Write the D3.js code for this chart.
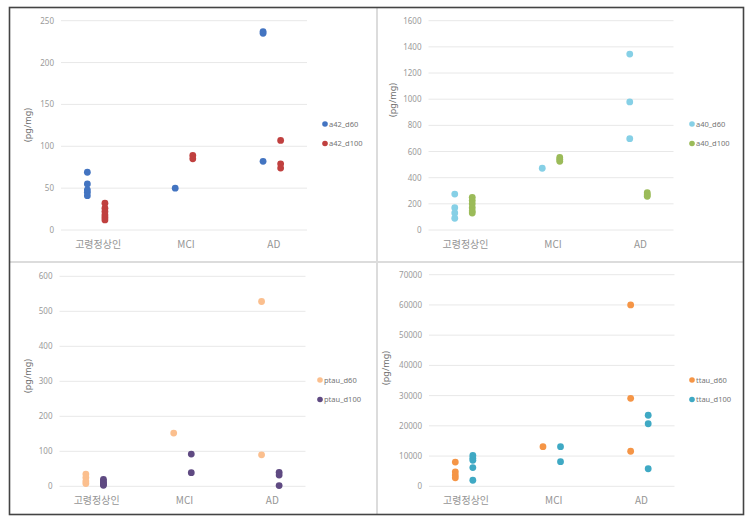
<!DOCTYPE html>
<html><head><meta charset="utf-8">
<script src="https://cdn.jsdelivr.net/npm/d3@7"></script>
<style>
html,body{margin:0;padding:0;background:#fff;}
svg{display:block;font-family:"Noto Sans CJK KR","Noto Sans",sans-serif;}
</style></head>
<body><svg id="c" width="751" height="522"></svg>
<script>
// ---- data ----
const categories = ["고령정상인", "MCI", "AD"];
const yTitle = "(pg/mg)";

// panel 1: a42
const a42Names = ["a42_d60", "a42_d100"];
const a42_d60 = [[69, 55, 48, 45, 41], [50], [237, 235, 82]];
const a42_d100 = [[32, 26, 22, 18, 15, 12], [89, 85], [107, 79, 74]];
const a42Ticks = [0, 50, 100, 150, 200, 250];

// panel 2: a40
const a40Names = ["a40_d60", "a40_d100"];
const a40_d60 = [[275, 170, 130, 90], [472], [1345, 979, 698]];
const a40_d100 = [[250, 225, 200, 170, 145, 130], [555, 540, 525], [285, 270, 258]];
const a40Ticks = [0, 200, 400, 600, 800, 1000, 1200, 1400, 1600];

// panel 3: ptau
const ptauNames = ["ptau_d60", "ptau_d100"];
const ptau_d60 = [[35, 25, 15, 8], [152], [528, 90]];
const ptau_d100 = [[20, 15, 10, 6, 3], [92, 39], [40, 32, 2]];
const ptauTicks = [0, 100, 200, 300, 400, 500, 600];

// panel 4: ttau
const ttauNames = ["ttau_d60", "ttau_d100"];
const ttau_d60 = [[8000, 4800, 3700, 2800], [13100], [60000, 29100, 11600]];
const ttau_d100 = [[10200, 9300, 8600, 6200, 2000], [13100, 8150], [23500, 20700, 5800]];
const ttauTicks = [0, 10000, 20000, 30000, 40000, 50000, 60000, 70000];

const svg = d3.select("#c");

function drawPanel(p) {
  const g = svg.append("g");
  const x = d3.scaleLinear().domain([0.6, 3.4]).range([p.left, p.right]);
  const y = d3.scaleLinear().domain([0, p.ticks[p.ticks.length - 1]]).range([p.bottom, p.top]);

  // gridlines
  g.selectAll("line.grid").data(p.ticks).join("line")
    .attr("x1", p.left).attr("x2", p.right)
    .attr("y1", d => y(d)).attr("y2", d => y(d))
    .attr("stroke", "#e8e8e8").attr("stroke-width", 1);

  // y axis labels
  const ax = g.append("g").attr("transform", `translate(${p.left - 7},0)`)
    .call(d3.axisLeft(y).tickValues(p.ticks).tickSize(0).tickPadding(0).tickFormat(d3.format("d")));
  ax.select(".domain").remove();
  ax.selectAll("text").attr("fill", "#9a9a9a").attr("font-size", 8)
    .attr("font-family", '"Noto Sans","DejaVu Sans",sans-serif');

  // y title
  g.append("text")
    .attr("transform", `translate(${p.left - p.titleDx},${p.titleY}) rotate(-90)`)
    .attr("text-anchor", "middle").attr("font-size", 9).attr("fill", "#707070")
    .attr("font-family", '"Noto Sans","DejaVu Sans",sans-serif')
    .text(yTitle);

  // category labels
  g.selectAll("text.cat").data(categories).join("text")
    .attr("x", (d, i) => x(i + 1) + 2).attr("y", p.bottom + 18)
    .attr("text-anchor", "middle").attr("font-size", 10).attr("fill", "#959595")
    .text(d => d);

  // points
  p.series.forEach((s, si) => {
    const off = si === 0 ? -0.1 : 0.1;
    const pts = [];
    s.values.forEach((arr, ci) => arr.forEach(v => pts.push({ c: ci + 1, v })));
    g.selectAll(null).data(pts).join("circle")
      .attr("cx", d => x(d.c + off)).attr("cy", d => y(d.v))
      .attr("r", 3.4).attr("fill", s.color);
  });

  // legend
  p.series.forEach((s, si) => {
    const ly = p.legendY + si * 19.5;
    g.append("circle").attr("cx", p.right + p.legendDx).attr("cy", ly).attr("r", 2.8).attr("fill", s.color);
    g.append("text").attr("x", p.right + p.legendDx + 4).attr("y", ly + 2.6)
      .attr("font-size", 7.5).attr("fill", "#757575")
      .attr("font-family", '"Noto Sans","DejaVu Sans",sans-serif').text(s.name);
  });
}

drawPanel({ left: 61, right: 307, top: 20.7, bottom: 230, ticks: a42Ticks, titleY: 125, titleDx: 30, legendY: 124, legendDx: 18,
  series: [{ name: a42Names[0], values: a42_d60, color: "#4374c1" }, { name: a42Names[1], values: a42_d100, color: "#c0403f" }] });
drawPanel({ left: 428.5, right: 673.5, top: 20.7, bottom: 230, ticks: a40Ticks, titleY: 100, titleDx: 33, legendY: 124, legendDx: 18.5,
  series: [{ name: a40Names[0], values: a40_d60, color: "#86d0e6" }, { name: a40Names[1], values: a40_d100, color: "#9bbb59" }] });
drawPanel({ left: 59.5, right: 305.5, top: 276.3, bottom: 486.3, ticks: ptauTicks, titleY: 376, titleDx: 29, legendY: 380, legendDx: 14.5,
  series: [{ name: ptauNames[0], values: ptau_d60, color: "#fbbf8e" }, { name: ptauNames[1], values: ptau_d100, color: "#5f4a82" }] });
drawPanel({ left: 429, right: 674.5, top: 274.7, bottom: 486.3, ticks: ttauTicks, titleY: 368, titleDx: 40, legendY: 380, legendDx: 17.5,
  series: [{ name: ttauNames[0], values: ttau_d60, color: "#f59546" }, { name: ttauNames[1], values: ttau_d100, color: "#3fa9c4" }] });

// frame and dividers
svg.append("line").attr("x1", 377).attr("x2", 377).attr("y1", 8).attr("y2", 514).attr("stroke", "#dcdcdc").attr("stroke-width", 2);
svg.append("line").attr("x1", 10).attr("x2", 743).attr("y1", 262).attr("y2", 262).attr("stroke", "#dcdcdc").attr("stroke-width", 2);
svg.append("rect").attr("x", 9.5).attr("y", 7.5).attr("width", 734).attr("height", 507)
  .attr("fill", "none").attr("stroke", "#444").attr("stroke-width", 1.6);
</script>
</body></html>
